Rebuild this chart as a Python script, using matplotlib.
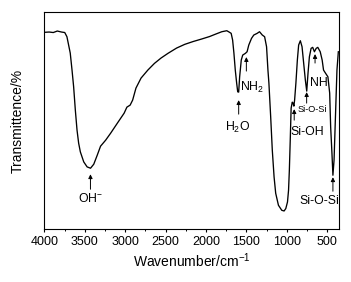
import numpy as np
import matplotlib
matplotlib.use("Agg")
import matplotlib.pyplot as plt
from matplotlib.ticker import MultipleLocator, NullLocator

plt.rcParams['font.family'] = ['Liberation Sans', 'DejaVu Sans']
plt.rcParams['mathtext.fontset'] = 'custom'
plt.rcParams['mathtext.rm'] = 'Liberation Sans'
plt.rcParams['mathtext.it'] = 'Liberation Sans'

# FTIR spectrum (transmittance in arbitrary units)
wavenumber = [4000, 3940, 3889, 3839, 3788, 3747, 3720, 3679, 3657, 3637,
              3616, 3595, 3575, 3554, 3512, 3470, 3428, 3388, 3345, 3304,
              3241, 3179, 3096, 3012, 2978, 2938, 2907, 2866, 2803, 2719,
              2637, 2556, 2470, 2363, 2262, 2159, 2054, 1955, 1887, 1804,
              1742, 1720, 1688, 1670, 1654, 1637, 1620, 1607, 1595, 1583,
              1563, 1545, 1512, 1491, 1470, 1436, 1408, 1366, 1337, 1303,
              1274, 1250, 1233, 1221, 1199, 1179, 1157, 1137, 1103, 1062,
              1033, 1012, 991, 978, 968, 956, 946, 932, 922, 912,
              903, 887, 869, 853, 832, 811, 791, 770, 753, 737,
              720, 699, 679, 658, 636, 616, 586, 562, 545, 519,
              491, 469, 457, 441, 429, 415, 399, 379, 362]
transmittance = [196.7, 197, 196.5, 198, 197, 196.5, 192.3, 176, 159, 142.3,
                 119, 99, 86, 77.3, 67.3, 62.3, 61, 65, 74, 83,
                 89, 96, 106, 116, 122, 124, 129, 141, 151, 159,
                 165.7, 171, 175.7, 181, 184.7, 187.5, 190, 192.5, 194.7, 197.3,
                 198.3, 197.3, 195.7, 189, 176, 159, 146, 137.3, 137, 152.3,
                 169, 174, 175.7, 177.3, 184, 190.7, 194, 195.7, 197.3, 194,
                 192.3, 182.3, 159, 146, 112.3, 79, 52.3, 36, 24, 19,
                 18.3, 20.7, 27.3, 39, 59, 92, 121, 127, 126, 123,
                 129, 146, 169, 184, 188.3, 182.3, 166, 149, 138, 156,
                 172.3, 180.7, 181.7, 177.3, 180.7, 181.7, 177.3, 169, 159, 155.7,
                 152.3, 136, 102.3, 76, 54, 69, 109, 159, 177.3]

# band assignments: label, arrow x, arrow tail, arrow head, label x, label y, size
band_labels = ['OH$^{-}$', 'H$_2$O', 'NH$_2$', 'Si-OH', 'Si-O-Si', 'NH', 'Si-O-Si']
band_x = [3429, 1595, 1500, 908, 754, 650, 429]
arrow_from = [40, 115, 158, 109, 126, 166, 38]
arrow_to = [55, 129, 172, 120, 137, 175, 52]
label_x = [3429, 1604, 1429, 741, 679, 604, 600]
label_y = [31, 102, 142, 97, 120, 146, 28]
label_size = [8.8, 8.8, 8.8, 8.8, 6.6, 8.8, 8.8]

fig = plt.figure(figsize=(3.51, 2.82), dpi=100)
ax = fig.add_axes([44.3/351, 1-229.3/282, (339.3-44.3)/351, (229.3-12)/282])

ax.plot(wavenumber, transmittance, color='k', lw=0.95)

for i in range(len(band_labels)):
  ax.annotate('', xy=(band_x[i], arrow_to[i]), xytext=(band_x[i], arrow_from[i]),
              arrowprops=dict(arrowstyle='-|>', lw=0.7, color='k', mutation_scale=6,
                              shrinkA=0, shrinkB=0))
  ax.text(label_x[i], label_y[i], band_labels[i], fontsize=label_size[i],
          ha='center', va='center', color='k')

ax.set_xlim(4000, 350)
ax.set_ylim(0, 217)
ax.xaxis.set_major_locator(MultipleLocator(500))
ax.xaxis.set_minor_locator(MultipleLocator(250))
ax.yaxis.set_major_locator(NullLocator())
ax.tick_params(axis='x', which='major', direction='out', length=2.5, width=0.8,
               labelsize=9, pad=2)
ax.tick_params(axis='x', which='minor', direction='out', length=1.5, width=0.7)
for s in ax.spines.values():
  s.set_linewidth(0.8)

ax.set_xlabel('Wavenumber/cm$^{-1}$', fontsize=10, labelpad=3)
ax.set_ylabel('Transmittence/%', fontsize=10, labelpad=14)

fig.savefig('out.png', dpi=100)
